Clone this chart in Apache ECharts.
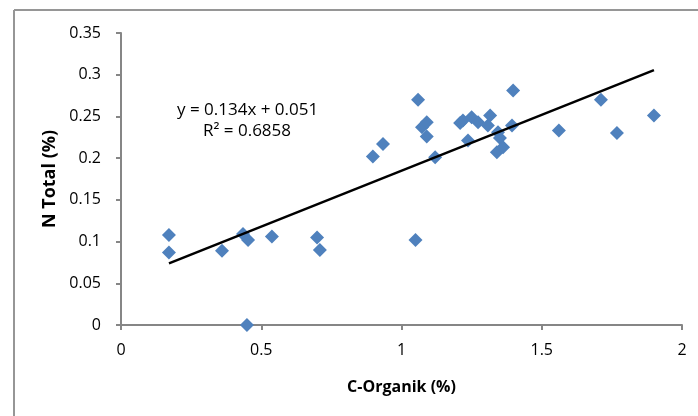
<!DOCTYPE html>
<html lang="en">
<head>
<meta charset="UTF-8">
<title>N Total vs C-Organik</title>
<script src="https://cdn.jsdelivr.net/npm/echarts@6/dist/echarts.min.js"></script>
<style>
  html, body { margin: 0; padding: 0; background: #fff; }
  #main { width: 698px; height: 416px; }
</style>
</head>
<body>
<div id="main"></div>
<script>
// C-Organik (%) vs N Total (%)
var cOrganik = [0.171, 0.171, 0.36, 0.435, 0.453, 0.449, 0.538, 0.699, 0.709,
  0.898, 0.934, 1.05, 1.059, 1.073, 1.09, 1.09, 1.12, 1.209, 1.219, 1.237, 1.25,
  1.273, 1.308, 1.316, 1.34, 1.344, 1.351, 1.362, 1.394, 1.398, 1.561, 1.711, 1.768, 1.9];
var nTotal = [0.108, 0.087, 0.089, 0.109, 0.102, 0.0, 0.106, 0.105, 0.090,
  0.202, 0.217, 0.102, 0.270, 0.237, 0.243, 0.226, 0.201, 0.242, 0.245, 0.221, 0.249,
  0.243, 0.239, 0.251, 0.207, 0.231, 0.224, 0.213, 0.239, 0.281, 0.233, 0.270, 0.230, 0.251];
var slope = 0.134, intercept = 0.051;
var trendX = [0.171, 1.9];
var eqText = 'y = 0.134x + 0.051';
var r2Text = 'R² = 0.6858';

var points = cOrganik.map(function (x, i) { return [x, nTotal[i]]; });
var trend = trendX.map(function (x) { return [x, slope * x + intercept]; });

var font = 'Open Sans';
var chart = echarts.init(document.getElementById('main'));
chart.setOption({
  animation: false,
  textStyle: { fontFamily: font },
  grid: { left: 121, right: 16, top: 33, bottom: 91 },
  xAxis: {
    type: 'value', min: 0, max: 2, interval: 0.5,
    name: 'C-Organik (%)', nameLocation: 'middle', nameGap: 54,
    nameTextStyle: { fontWeight: 'bold', fontSize: 16, color: '#000', fontFamily: font },
    axisLine: { lineStyle: { color: '#868686', width: 2 } },
    axisTick: { show: true, length: 5, lineStyle: { color: '#868686', width: 2 } },
    axisLabel: { color: '#000', fontSize: 16, margin: 17 },
    splitLine: { show: false }
  },
  yAxis: {
    type: 'value', min: 0, max: 0.35, interval: 0.05,
    name: 'N Total (%)', nameLocation: 'middle', nameGap: 56, nameRotate: 90,
    nameTextStyle: { fontWeight: 'bold', fontSize: 18, color: '#000', fontFamily: font },
    axisLine: { show: true, lineStyle: { color: '#868686', width: 2 } },
    axisTick: { show: true, length: 5, lineStyle: { color: '#868686', width: 2 } },
    axisLabel: { color: '#000', fontSize: 16, margin: 20 },
    splitLine: { show: false }
  },
  graphic: [
    { type: 'line', shape: { x1: 14, y1: 10, x2: 698, y2: 10 }, style: { stroke: '#969696', lineWidth: 2 } },
    { type: 'line', shape: { x1: 14, y1: 10, x2: 14, y2: 416 }, style: { stroke: '#969696', lineWidth: 2 } },
    { type: 'text', x: 177, y: 110, style: { text: eqText, fontSize: 17, fill: '#000', fontFamily: font, verticalAlign: 'middle' } },
    { type: 'text', x: 203, y: 131, style: { text: r2Text, fontSize: 17, fill: '#000', fontFamily: font, verticalAlign: 'middle' } }
  ],
  series: [
    {
      type: 'scatter', data: points, symbol: 'diamond', symbolSize: 14,
      itemStyle: { color: '#4F81BD', opacity: 1 }, z: 2
    },
    {
      type: 'line', data: trend, showSymbol: false, symbol: 'none',
      lineStyle: { color: '#000', width: 2.5 }, z: 3
    }
  ]
});
</script>
</body>
</html>
